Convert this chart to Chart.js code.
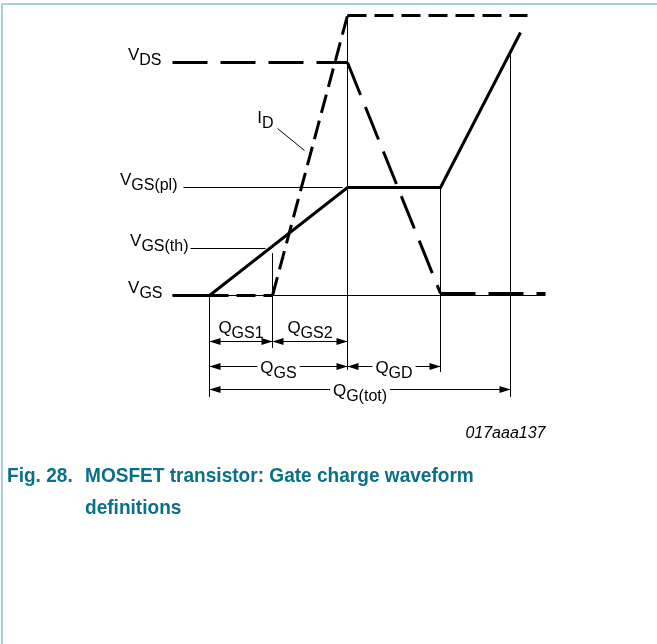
<!DOCTYPE html>
<html>
<head>
<meta charset="utf-8">
<script src="https://cdn.jsdelivr.net/npm/chart.js@4.4.1/dist/chart.umd.min.js"></script>
<style>
  html, body { margin: 0; padding: 0; background: #fff; }
  #wrap { position: relative; width: 657px; height: 644px; overflow: hidden; }
  #wrap canvas { position: absolute; left: 0; top: 0; }
  .frameTop { position: absolute; left: 1px; top: 3px; width: 656px; height: 2px; background: #a6d0da; }
  .frameLeft { position: absolute; left: 1px; top: 3px; width: 2px; height: 641px; background: #a6d0da; }
  .cap { position: absolute; top: 459px; font: bold 20.5px "Liberation Sans", Arial, sans-serif; line-height: 32px; color: #087089; white-space: nowrap; transform: scaleX(0.93); transform-origin: left top; }
</style>
</head>
<body>
<div id="wrap">
  <div class="frameTop"></div>
  <div class="frameLeft"></div>
  <canvas id="gateChart" width="657" height="644"></canvas>
  <div class="cap" style="left:7px">Fig. 28.</div>
  <div class="cap" style="left:85px">MOSFET transistor: Gate charge waveform<br>definitions</div>
</div>
<script>
// charge axis in arbitrary units (0 = start of gate drive), level axis in arbitrary units
const vgsCharge = [-3.7, 0, 13.8, 23.1, 31.1];
const vgsLevel = [0, 0, 10.8, 10.8, 26.3];
const vdsCharge = [-3.7, 13.8, 23.1, 33.6];
const vdsLevel = [23.3, 23.3, 0.2, 0.2];
const idCharge = [0, 6.3, 13.8, 31.8];
const idLevel = [0, 0, 28.0, 28.0];

// vertical charge markers
const markCharge = [0, 6.3, 13.8, 23.1, 30.1];
const markTop = [0, 4.2, 28.0, 10.8, 24.4];
const markBottom = [-10.1, -5.2, -7.4, -7.6, -10.1];

// level labels on the left and their thin leader lines
const levelMain = ["V", "V", "V", "V"];
const levelSub = ["DS", "GS(pl)", "GS(th)", "GS"];
const levelValue = [23.3, 10.8, 4.7, 0];
const leaderFrom = [-3.7, -2.6, -1.9, -3.7];
const leaderTo = [null, 13.3, 5.6, 33.6];

// I_D label leader
const idLeaderCharge = [6.8, 9.5];
const idLeaderLevel = [16.7, 14.5];

// charge dimensions
const dimMain = ["Q", "Q", "Q", "Q", "Q"];
const dimSub = ["GS1", "GS2", "GS", "GD", "G(tot)"];
const dimFrom = [0, 6.3, 0, 13.8, 0];
const dimTo = [6.3, 13.8, 13.8, 23.1, 30.1];
const dimRow = [-4.6, -4.6, -7.1, -7.1, -9.4];

const figureId = "017aaa137";

const FONT = '"Liberation Sans", Arial, sans-serif';
const mainFont = "17px " + FONT;
const subFont = "16px " + FONT;

function pts(xs, ys) {
  return xs.map((x, i) => ({ x: x, y: ys[i] }));
}

function thin(data) {
  return { data: data, showLine: true, borderColor: "#000", borderWidth: 1, pointRadius: 0, fill: false };
}

// each segment of a dashed trace gets its own dataset so the dash pattern restarts at every corner
function dashedSegments(xs, ys, dash) {
  const out = [];
  for (let i = 0; i < xs.length - 1; i++) {
    out.push({
      data: pts([xs[i], xs[i + 1]], [ys[i], ys[i + 1]]), showLine: true, borderColor: "#000",
      borderWidth: 3, borderDash: dash, pointRadius: 0, fill: false
    });
  }
  return out;
}

const datasets = [];
leaderFrom.forEach((from, i) => {
  if (leaderTo[i] !== null) datasets.push(thin(pts([from, leaderTo[i]], [levelValue[i], levelValue[i]])));
});
markCharge.forEach((q, i) => {
  datasets.push(thin(pts([q, q], [markTop[i], markBottom[i]])));
});
datasets.push(thin(pts(idLeaderCharge, idLeaderLevel)));
datasets.push(...dashedSegments(vdsCharge, vdsLevel, [35, 13]));
datasets.push(...dashedSegments(idCharge, idLevel, [19, 8]));
datasets.push({
  data: pts(vgsCharge, vgsLevel), showLine: true, borderColor: "#000", borderWidth: 3,
  pointRadius: 0, fill: false
});

function subWidth(ctx, main, sub) {
  ctx.font = mainFont;
  const a = ctx.measureText(main).width;
  ctx.font = subFont;
  return a + ctx.measureText(sub).width;
}

function drawSub(ctx, x, y, main, sub) {
  ctx.textAlign = "left";
  ctx.textBaseline = "alphabetic";
  ctx.font = mainFont;
  ctx.fillText(main, x, y);
  const a = ctx.measureText(main).width;
  ctx.font = subFont;
  ctx.fillText(sub, x + a, y + 5);
}

function arrowHead(ctx, tipX, y, dir) {
  ctx.beginPath();
  ctx.moveTo(tipX, y);
  ctx.lineTo(tipX - dir * 11, y - 3.5);
  ctx.lineTo(tipX - dir * 11, y + 3.5);
  ctx.closePath();
  ctx.fill();
}

const labelPlugin = {
  id: "labels",
  afterDatasetsDraw(chart) {
    const ctx = chart.ctx;
    const xs = chart.scales.x, ys = chart.scales.y;
    const px = v => xs.getPixelForValue(v);
    const py = v => ys.getPixelForValue(v);
    ctx.save();
    ctx.fillStyle = "#000";
    ctx.strokeStyle = "#000";
    ctx.lineWidth = 1;

    // level labels
    const gaps = [11, 6, 2, 10];
    levelMain.forEach((m, i) => {
      const w = subWidth(ctx, m, levelSub[i]);
      drawSub(ctx, px(leaderFrom[i]) - gaps[i] - w, py(levelValue[i]) - 3, m, levelSub[i]);
    });

    // I_D
    const w = subWidth(ctx, "I", "D");
    drawSub(ctx, px(idLeaderCharge[0]) - 4 - w, py(idLeaderLevel[0]) - 6, "I", "D");

    // dimensions
    dimMain.forEach((m, i) => {
      const x1 = px(dimFrom[i]), x2 = px(dimTo[i]), y = py(dimRow[i]);
      const lw = subWidth(ctx, m, dimSub[i]);
      const cx = (x1 + x2) / 2;
      const above = dimRow[i] === dimRow[0];
      ctx.beginPath();
      if (above) {
        ctx.moveTo(x1, y); ctx.lineTo(x2, y);
        drawSub(ctx, cx - lw / 2, y - 9, m, dimSub[i]);
      } else {
        ctx.moveTo(x1, y); ctx.lineTo(cx - lw / 2 - 3, y);
        ctx.moveTo(cx + lw / 2 + 3, y); ctx.lineTo(x2, y);
        drawSub(ctx, cx - lw / 2, y + 6, m, dimSub[i]);
      }
      ctx.stroke();
      arrowHead(ctx, x1, y, -1);
      arrowHead(ctx, x2, y, 1);
    });

    // figure id
    ctx.font = "italic 16px " + FONT;
    ctx.textAlign = "right";
    ctx.fillText(figureId, px(vdsCharge[vdsCharge.length - 1]), py(0) + 142);
    ctx.restore();
  }
};

new Chart(document.getElementById("gateChart"), {
  type: "scatter",
  data: { datasets: datasets },
  options: {
    responsive: false,
    animation: false,
    layout: { padding: 0 },
    plugins: { legend: { display: false }, tooltip: { enabled: false } },
    elements: { line: { tension: 0, borderCapStyle: "butt", borderJoinStyle: "miter" } },
    scales: {
      x: { type: "linear", display: false, min: -20.95, max: 44.75 },
      y: { type: "linear", display: false, min: -34.85, max: 29.55 }
    }
  },
  plugins: [labelPlugin]
});
</script>
</body>
</html>
